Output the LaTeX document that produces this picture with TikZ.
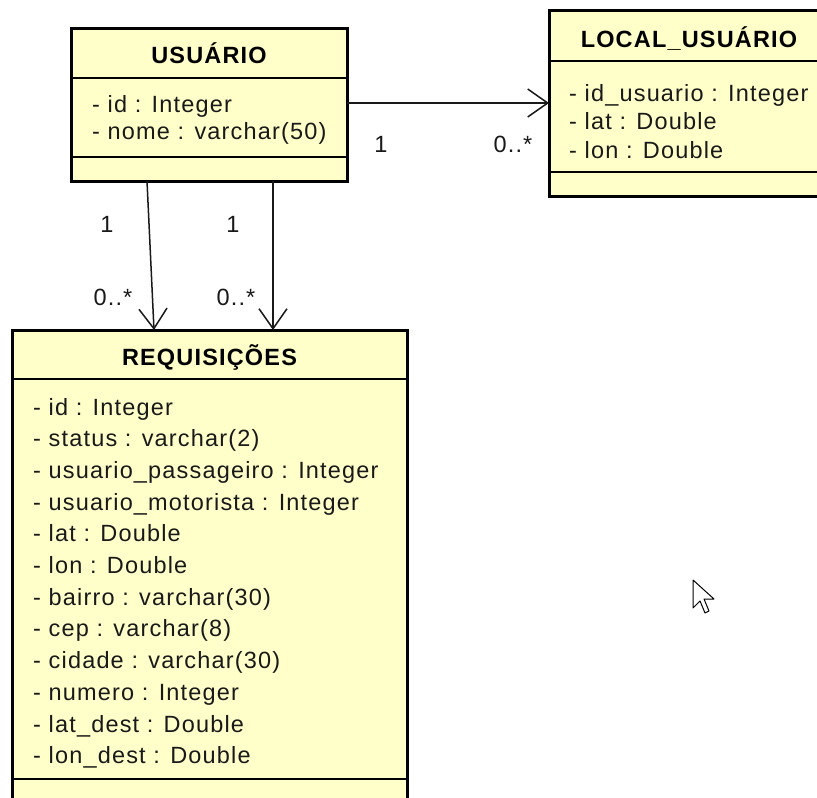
\documentclass[tikz,border=0pt]{standalone}
\usepackage{fontspec}
\setmainfont{Liberation Sans}[LetterSpace=5]
\usetikzlibrary{arrows.meta}
\definecolor{classfill}{RGB}{255,255,202}
\definecolor{ink}{RGB}{25,25,25}
\begin{document}
\begin{tikzpicture}[x=1pt,y=-1pt,
  classbox/.style={draw=black, line width=3pt, fill=classfill, inner sep=0pt, outer sep=0pt, anchor=north west},
  sepline/.style={draw=black, line width=2pt},
  attr/.style={anchor=base west, inner sep=0pt, font=\fontsize{23.5}{28}\selectfont, text=ink},
  title/.style={anchor=base, inner sep=0pt, font=\fontsize{23.5}{28}\selectfont\bfseries, text=black},
  mult/.style={anchor=base, inner sep=0pt, font=\fontsize{23.5}{28}\selectfont, text=ink},
  assoc/.style={draw=ink, line width=1.5pt, -{Straight Barb[length=20pt,width=28pt]}}
]
\useasboundingbox (0,0) rectangle (817,798);
\clip (0,0) rectangle (817,798);
\fill[white] (0,0) rectangle (817,798);

% USUARIO
\node[classbox, minimum width=276pt, minimum height=153pt] (usu) at (71,28) {};
\draw[sepline] (71,78) -- (347,78);
\draw[sepline] (71,157) -- (347,157);
\node[title] (usuT) at (209,63) {USUÁRIO};
\node[attr] (usuA1) at (92,112) {- id : Integer};
\node[attr] (usuA2) at (92,139) {- nome : varchar(50)};

% LOCAL_USUARIO
\node[classbox, minimum width=280pt, minimum height=186pt] (loc) at (549,10) {};
\draw[sepline] (549,61) -- (829,61);
\draw[sepline] (549,172) -- (829,172);
\node[title] (locT) at (689,47) {LOCAL\_USUÁRIO};
\node[attr] (locA1) at (569,101) {- id\_usuario : Integer};
\node[attr] (locA2) at (569,129) {- lat : Double};
\node[attr] (locA3) at (569,158) {- lon : Double};

% REQUISICOES
\node[classbox, minimum width=395pt, minimum height=480pt] (req) at (12,330) {};
\draw[sepline] (12,379) -- (407,379);
\draw[sepline] (12,779) -- (407,779);
\node[title] (reqT) at (209.5,365) {REQUISIÇÕES};
\node[attr] (r1) at (33,415) {- id : Integer};
\node[attr] (r2) at (33,446.7) {- status : varchar(2)};
\node[attr] (r3) at (33,478.4) {- usuario\_passageiro : Integer};
\node[attr] (r4) at (33,510.1) {- usuario\_motorista : Integer};
\node[attr] (r5) at (33,541.8) {- lat : Double};
\node[attr] (r6) at (33,573.5) {- lon : Double};
\node[attr] (r7) at (33,605.2) {- bairro : varchar(30)};
\node[attr] (r8) at (33,636.9) {- cep : varchar(8)};
\node[attr] (r9) at (33,668.6) {- cidade : varchar(30)};
\node[attr] (r10) at (33,700.3) {- numero : Integer};
\node[attr] (r11) at (33,732) {- lat\_dest : Double};
\node[attr] (r12) at (33,763.7) {- lon\_dest : Double};

% connectors
\coordinate (yh) at (0,103);
\coordinate (xa) at (147,0);
\coordinate (xb) at (154,0);
\coordinate (xc) at (273,0);
\draw[assoc] (usu.east |- yh) -- (loc.west |- yh);
\draw[assoc] (usu.south -| xa) -- (req.north -| xb);
\draw[assoc] (usu.south -| xc) -- (req.north -| xc);

% multiplicities
\node[mult] (m1) at (381,152) {1};
\node[mult] (m2) at (513,152) {0..*};
\node[mult] (m3) at (107,232) {1};
\node[mult] (m4) at (233,232) {1};
\node[mult] (m5) at (113,305) {0..*};
\node[mult] (m6) at (236,305) {0..*};

% mouse cursor
\filldraw[fill=white, draw=black, line width=1pt, line join=round]
  (693,580) -- (693,608) -- (700,601) -- (705,613) -- (709,611) -- (704,599) -- (714,599) -- cycle;
\end{tikzpicture}
\end{document}
